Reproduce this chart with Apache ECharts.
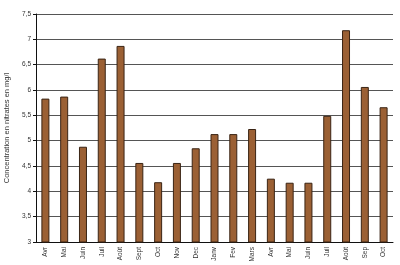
<!DOCTYPE html>
<html>
<head>
<meta charset="utf-8">
<script src="https://cdn.jsdelivr.net/npm/echarts@6/dist/echarts.min.js"></script>
<style>html,body{margin:0;padding:0;background:#fff;}#c{width:400px;height:265px;}</style>
</head>
<body>
<div id="c"></div>
<script>
const categories = ["Avr","Mai","Juin","Juil","Août","Sept","Oct","Nov","Dec","Janv","Fev","Mars","Avr","Mai","Juin","Juil","Août","Sep","Oct"];
const values = [5.83,5.87,4.88,6.62,6.87,4.56,4.18,4.56,4.85,5.13,5.13,5.23,4.25,4.17,4.17,5.49,7.18,6.06,5.66];
const yTicks = { min: 3, max: 7.5, interval: 0.5 };
const yName = "Concentration en nitrates en mg/l";
const FONT = 'Liberation Sans, Arial, sans-serif';

const chart = echarts.init(document.getElementById('c'), null, {renderer:'canvas'});
chart.setOption({
  animation: false,
  backgroundColor: '#fff',
  grid: { left: 36, right: 7, top: 14, bottom: 23, containLabel: false, outerBoundsMode: 'none' },
  xAxis: {
    type: 'category',
    data: categories,
    boundaryGap: true,
    axisLine: { show: true, lineStyle: { color: '#111', width: 1 } },
    axisTick: { show: false },
    axisLabel: { rotate: 90, fontSize: 6.5, color: '#333', fontFamily: FONT, margin: 5, interval: 0 }
  },
  yAxis: {
    type: 'value',
    min: yTicks.min, max: yTicks.max, interval: yTicks.interval,
    name: yName,
    nameLocation: 'middle',
    nameGap: 23,
    nameTextStyle: { fontSize: 7.5, color: '#333', fontFamily: FONT },
    axisLine: { show: true, lineStyle: { color: '#111', width: 1 } },
    axisTick: { show: true, length: 3, lineStyle: { color: '#111' } },
    axisLabel: { fontSize: 6.5, color: '#333', fontFamily: FONT, margin: 5,
      formatter: v => String(v).replace('.', ',') },
    splitLine: { show: true, lineStyle: { color: '#555', width: 1 } }
  },
  series: [{
    type: 'bar',
    data: values,
    barWidth: 8,
    itemStyle: { color: '#9b6034', borderColor: '#3a2414', borderWidth: 1 }
  }]
});
</script>
</body>
</html>
